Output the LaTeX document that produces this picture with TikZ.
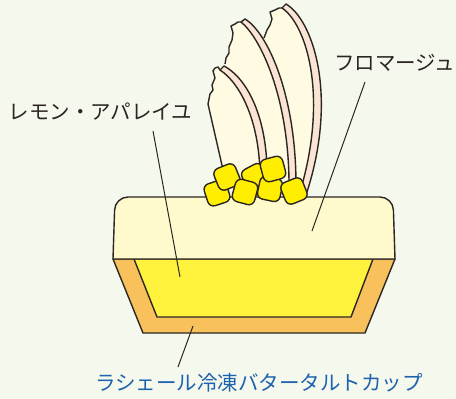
\documentclass[tikz,border=0pt]{standalone}
\usepackage{fontspec}
\newfontfamily\jp{Noto Sans CJK JP}
\definecolor{bg}{HTML}{F5F8EC}
\definecolor{ink}{HTML}{2B2622}
\definecolor{cream}{HTML}{FEFACB}
\definecolor{shard}{HTML}{FEFBE2}
\definecolor{rim}{HTML}{FCE4D4}
\definecolor{lemon}{HTML}{FFF23C}
\definecolor{crust}{HTML}{F8C15C}
\definecolor{cube}{HTML}{FFEE00}
\definecolor{caption}{HTML}{1D62AE}
\begin{document}
\begin{tikzpicture}[x=1pt,y=-1pt,
  outline/.style={draw=ink, line width=1.4pt, line join=round},
  cubebox/.style={outline, fill=cube, shape=rectangle, rounded corners=6pt,
    minimum size=23pt, inner sep=0pt},
  leader/.style={draw=ink, line width=1pt},
  lbl/.style={font=\jp\fontsize{20.5}{24}\selectfont, text=ink, inner sep=0pt},
]
% background and frame
\fill[bg] (0,0) rectangle (456,399);
\useasboundingbox (0,0) rectangle (456,399);

% tart cup and lemon filling
\draw[outline, fill=crust] (113,259) -- (395,259) -- (365,333) -- (143,333) -- cycle;
\draw[outline, fill=lemon] (134,259) -- (373,259) -- (351,317) -- (157,317) -- cycle;
% fromage layer with rounded top corners
\draw[outline, fill=cream] (113,259) [rounded corners=13pt] -- (115,197) -- (393,197) [sharp corners] -- (395,259) -- cycle;

% large shard (back)
\fill[shard] (283,7) -- (279,8) -- (275,10) -- (270,12) -- (272,19) -- (270,25) -- (267,30)
  -- (264,38) -- (255,80) -- (262,192) -- (300,192) .. controls (329,95) and (306,24) .. (282,8) -- cycle;
\draw[outline] (282,8) -- (279,8) -- (275,10) -- (270,12) -- (272,19) -- (270,25) -- (267,30) -- (264,38);
\draw[outline, fill=rim] (286,4) .. controls (313,20) and (338,95) .. (307,192) -- (300,192)
  .. controls (329,95) and (306,24) .. (282,8) -- cycle;

% middle shard
\fill[shard] (242,21) -- (238,22) -- (235,24) -- (231,26) -- (233,33) -- (232,40) -- (229,47)
  -- (229,53) -- (226,58) -- (225,64) -- (220,120) -- (240,190) -- (289,190)
  .. controls (290,98) and (260,37) .. (241,22) -- cycle;
\draw[outline] (241,22) -- (238,22) -- (235,24) -- (231,26) -- (233,33) -- (232,40) -- (229,47)
  -- (229,53) -- (226,58) -- (225,64);
\draw[outline, fill=rim] (245,19) .. controls (267,32) and (297,95) .. (296,190) -- (289,190)
  .. controls (290,98) and (260,37) .. (241,22) -- cycle;

% small shard (front)
\fill[shard] (222,67) -- (218,67) -- (215,68) -- (213,71) -- (215,78) -- (212,85) -- (213,90)
  -- (210,94) -- (208,104) -- (223,172) -- (260,178) .. controls (260,121) and (240,83) .. (220,70) -- cycle;
\draw[outline] (220,70) -- (218,67) -- (215,68) -- (213,71) -- (215,78) -- (212,85) -- (213,90)
  -- (210,94) -- (208,104) -- (224,174);
\draw[outline, fill=rim] (224,66) .. controls (247,78) and (268,118) .. (267,178) -- (260,178)
  .. controls (260,121) and (240,83) .. (220,70) -- cycle;

% lemon cubes
\node[cubebox, rotate=18]  (cubeB) at (217,193) {};
\node[cubebox, rotate=22]  (cubeA) at (227,177) {};
\node[cubebox, rotate=28]  (cubeD) at (255,177) {};
\node[cubebox, rotate=-15] (cubeC) at (245,192) {};
\node[cubebox, rotate=-12] (cubeF) at (270,189) {};
\node[cubebox, rotate=15]  (cubeE) at (273,169) {};
\node[cubebox, rotate=22]  (cubeG) at (294,191) {};

% labels
\node[lbl, anchor=center] (lemonlbl) at (100.5,112) {レモン・アパレイユ};
\node[lbl, anchor=west] (fromagelbl) at (334,63) {フロマージュ};
\node[lbl, anchor=center, text=caption] (cuplbl) at (259,383) {ラシェール冷凍バタータルトカップ};

% leader lines
\coordinate (lemonfrom) at (153,131);
\coordinate (lemonto) at (180,277);
\coordinate (fromagefrom) at (365,82);
\coordinate (fromageto) at (312,231);
\coordinate (cupfrom) at (178,367);
\coordinate (cupto) at (193,326);
\draw[leader] (lemonfrom) -- (lemonto);
\draw[leader] (fromagefrom) -- (fromageto);
\draw[leader] (cupfrom) -- (cupto);
\end{tikzpicture}
\end{document}
